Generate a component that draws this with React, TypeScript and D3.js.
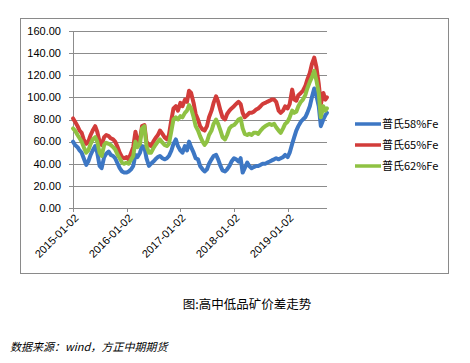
import React from "react";
import * as d3 from "d3";

// semi-monthly observations, 2015-01 .. 2019-09, plus last print
const startMonth = "2015-01";
const endMonth = "2019-09";
const lastDate = "2019-09-27";

const xTickLabels = ["2015-01-02", "2016-01-02", "2017-01-02", "2018-01-02", "2019-01-02"];
const yTicks = [0, 20, 40, 60, 80, 100, 120, 140, 160];

const seriesNames = ["普氏58%Fe", "普氏65%Fe", "普氏62%Fe"];
const seriesColors = ["#3d77c4", "#d23c3a", "#8fc243"];

const fe58 = [
  60, 57, 55, 52, 50, 45, 39, 42, 48, 52, 56, 50, 38, 36, 46, 49, 51, 48, 47, 45, 40, 36, 33, 32,
  32, 33, 35, 38, 48, 46, 50, 56, 55, 45, 38, 40, 42, 44, 46, 47, 45, 44, 45, 47, 52, 58, 62, 56,
  52, 50, 56, 52, 60, 55, 50, 45, 44, 38, 35, 33, 35, 40, 44, 47, 48, 44, 38, 34, 33, 35, 38, 42,
  45, 44, 42, 45, 32, 36, 41, 38, 36, 37, 38, 38, 39, 40, 40, 41, 42, 43, 44, 45, 44, 45, 46, 48,
  46, 50, 58, 64, 70, 74, 78, 80, 82, 86, 92, 100, 108, 102, 92, 74, 80, 84,
  86,
];

const fe65 = [
  81, 78, 74, 70, 68, 62, 58, 60, 66, 70, 74, 69, 60, 57, 64, 66, 65, 63, 62, 60, 55, 50, 46, 45,
  46, 44, 50, 55, 69, 60, 62, 74, 75, 60, 57, 56, 60, 63, 66, 70, 67, 64, 62, 66, 80, 90, 92, 88,
  95, 92, 98, 96, 106, 104, 95, 85, 80, 74, 71, 70, 74, 82, 88, 95, 101, 96, 88, 82, 80, 85, 88, 90,
  92, 94, 96, 94, 86, 82, 84, 86, 86, 87, 89, 90, 92, 94, 95, 96, 97, 98, 98, 96, 88, 86, 88, 92,
  90, 94, 107, 98, 97, 102, 104, 106, 110, 116, 122, 130, 136, 128, 112, 94, 104, 98,
  100,
];

const fe62 = [
  72, 70, 66, 63, 60, 55, 50, 52, 58, 62, 64, 60, 50, 47, 57, 59, 58, 57, 55, 53, 48, 45, 41, 40,
  41, 40, 44, 47, 60, 55, 58, 72, 74, 56, 50, 50, 54, 57, 60, 62, 59, 57, 56, 58, 70, 80, 82, 80,
  83, 82, 86, 88, 93, 90, 82, 74, 70, 65, 60, 57, 60, 66, 70, 76, 80, 76, 70, 64, 62, 66, 72, 74,
  75, 77, 80, 81, 72, 67, 66, 67, 66, 68, 68, 67, 70, 72, 74, 75, 76, 75, 76, 73, 70, 68, 72, 76,
  78, 82, 88, 86, 87, 92, 96, 98, 102, 108, 114, 118, 124, 116, 104, 82, 92, 88,
  90,
];

const parse = d3.timeParse("%Y-%m-%d");
const parseMonth = d3.timeParse("%Y-%m");

const months = d3.timeMonth.range(parseMonth(startMonth)!, d3.timeMonth.offset(parseMonth(endMonth)!, 1));
const dates: Date[] = [];
months.forEach((m) => {
  dates.push(new Date(m.getFullYear(), m.getMonth(), 2));
  dates.push(new Date(m.getFullYear(), m.getMonth(), 16));
});
dates.push(parse(lastDate)!);

const W = 470;
const H = 363;
const plot = { left: 73, right: 327, top: 31, bottom: 208 };

const App = () => {
  const x = d3
    .scaleTime()
    .domain([parse(xTickLabels[0])!, parse(lastDate)!])
    .range([plot.left, plot.right]);
  const y = d3.scaleLinear().domain([0, 160]).range([plot.bottom, plot.top]);

  const line = d3
    .line<number>()
    .x((_, i) => x(dates[i]))
    .y((d) => y(d))
    .curve(d3.curveLinear);

  const allSeries = [fe58, fe65, fe62];
  const font = "'Liberation Sans', Arial, sans-serif";
  const cjk = "'Noto Sans CJK SC', 'Liberation Sans', sans-serif";

  return (
    <svg width={W} height={H} style={{ position: "absolute", left: 0, top: 0, background: "#fff" }}>
      <rect x={0} y={0} width={W} height={H} fill="#fff" />
      {/* chart frame */}
      <rect x={20.5} y={18.5} width={428} height={255} fill="none" stroke="#8a8a8a" strokeWidth={1} />

      {/* gridlines + y labels */}
      {yTicks.map((t) => (
        <g key={t}>
          <line x1={plot.left - 4} x2={plot.right} y1={Math.round(y(t)) + 0.5} y2={Math.round(y(t)) + 0.5} stroke="#8c8c8c" strokeWidth={1} />
          <text x={61} y={y(t)} dy="0.35em" textAnchor="end" fontFamily={font} fontSize={11} fill="#000">
            {t.toFixed(2)}
          </text>
        </g>
      ))}

      {/* axes */}
      <line x1={plot.left + 0.5} x2={plot.left + 0.5} y1={plot.top} y2={plot.bottom} stroke="#8c8c8c" />
      {xTickLabels.map((s) => {
        const xp = Math.round(x(parse(s)!)) + 0.5;
        return (
          <g key={s}>
            <line x1={xp} x2={xp} y1={plot.bottom} y2={plot.bottom + 4} stroke="#8c8c8c" />
            <text
              transform={`translate(${xp + 3},${plot.bottom + 8}) rotate(-45)`}
              textAnchor="end"
              dy="0.35em"
              fontFamily={font}
              fontSize={11}
              fill="#000"
            >
              {s}
            </text>
          </g>
        );
      })}

      {/* series */}
      {allSeries.map((vals, i) => (
        <path
          key={seriesNames[i]}
          d={line(vals) ?? ""}
          fill="none"
          stroke={seriesColors[i]}
          strokeWidth={4}
          strokeLinejoin="round"
          strokeLinecap="round"
        />
      ))}

      {/* legend */}
      {seriesNames.map((n, i) => {
        const ly = 124 + i * 21;
        return (
          <g key={n}>
            <line x1={355} x2={381} y1={ly} y2={ly} stroke={seriesColors[i]} strokeWidth={3.5} />
            <text x={382} y={ly} dy="0.35em" fontFamily={cjk} fontSize={11} fill="#000">
              {n}
            </text>
          </g>
        );
      })}

      {/* caption */}
      <text x={247} y={305} dy="0.35em" textAnchor="middle" fontFamily={cjk} fontSize={12.5} fill="#000">
        图:高中低品矿价差走势
      </text>
      <text x={10} y={347} dy="0.35em" fontFamily={cjk} fontSize={11} fontStyle="italic" fill="#000">
        数据来源：wind，方正中期期货
      </text>
    </svg>
  );
};

export default App;
